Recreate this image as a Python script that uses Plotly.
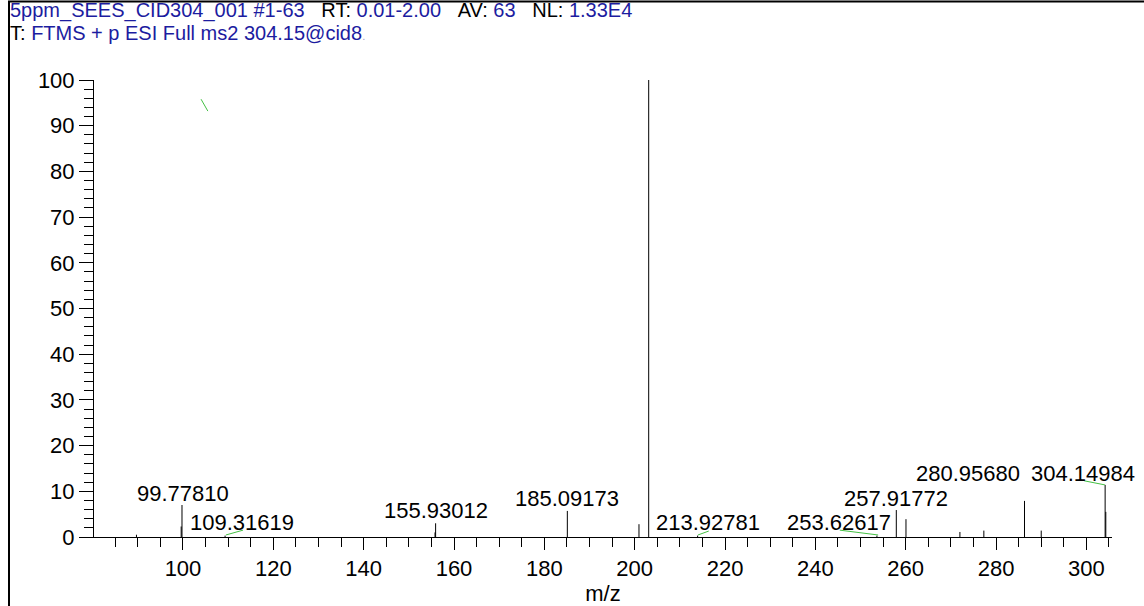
import plotly.graph_objects as go

# ---------------- data ----------------
peak_mz = [89.7, 99.60, 99.78, 109.32, 155.80, 155.93, 185.09, 200.95, 203.10,
           213.93, 253.63, 257.92, 260.06, 272.0, 277.3, 286.3, 290.0, 304.15, 304.30]
peak_int = [0.5, 2.3, 7.0, 0.3, 1.0, 3.0, 5.7, 2.8, 100.0,
            0.3, 0.3, 5.9, 3.9, 1.1, 1.4, 7.9, 1.4, 11.4, 5.5]

label_text = ["99.77810", "109.31619", "155.93012", "185.09173", "203.10234",
              "213.92781", "253.62617", "257.91772", "280.95680", "304.14984"]
label_x = [99.9, 113.1, 156.0, 185.1, 203.4, 216.2, 245.2, 257.9, 273.7, 299.2]
label_y = [9.6, 3.1, 5.75, 8.5, 103.3, 3.1, 3.1, 8.5, 13.9, 13.9]

# green label leader lines (start x, start y, end x, end y)
conn_x0 = [109.5, 214.0, 245.4, 299.5, 104.0]
conn_y0 = [0.44, 0.44, 1.5, 12.3, 95.8]
conn_x1 = [113.3, 216.4, 253.9, 304.1, 105.5]
conn_y1 = [1.5, 1.3, 0.44, 11.4, 93.2]

x_range = [80.3, 305.67]
y_range = [0, 100]
x_major = list(range(100, 301, 20))
y_major = list(range(0, 101, 10))

header1 = [("5ppm_SEES_CID304_001 #1-63", True), ("\u00a0\u00a0\u00a0RT:\u00a0", False),
           ("0.01-2.00", True), ("\u00a0\u00a0\u00a0AV:\u00a0", False), ("63", True),
           ("\u00a0\u00a0\u00a0NL:\u00a0", False), ("1.33E4", True)]
header2 = [("T:\u00a0", False), ("FTMS + p ESI Full ms2 304.15@cid8", True)]

# ---------------- styling / layout ----------------
W, H = 1144, 606
L, R, T, B = 94, 1112, 80, 537
BLUE = "#1c1ca0"
FONT = "Arial, Liberation Sans, sans-serif"
FS = 22
HFS = 20


def px_x(p):
    return (p - L) / (R - L)


def px_y(p):
    return (B - p) / (B - T)


def rich(parts):
    out = ""
    for txt, blue in parts:
        out += f"<span style='color:{BLUE}'>{txt}</span>" if blue else txt
    return out


sx, sy = [], []
for m, h in zip(peak_mz, peak_int):
    sx += [m, m, None]
    sy += [0, h, None]

cx, cy = [], []
for a, b, c, d in zip(conn_x0, conn_y0, conn_x1, conn_y1):
    cx += [a, c, None]
    cy += [b, d, None]

fig = go.Figure()
fig.add_trace(go.Scatter(x=sx, y=sy, mode="lines", line=dict(color="black", width=1),
                         hoverinfo="skip", cliponaxis=False))
fig.add_trace(go.Scatter(x=cx, y=cy, mode="lines", line=dict(color="#44c044", width=1),
                         hoverinfo="skip", cliponaxis=False))

annotations = []
for t, x, y in zip(label_text, label_x, label_y):
    annotations.append(dict(x=x, y=y, xref="x", yref="y", text=t, showarrow=False,
                            xanchor="center", yanchor="middle",
                            font=dict(size=FS, color="black", family=FONT)))

annotations.append(dict(x=px_x(9), y=px_y(10.5), xref="paper", yref="paper",
                        text=rich(header1), showarrow=False, xanchor="left", yanchor="middle",
                        borderpad=0, font=dict(size=HFS, color="black", family=FONT)))
annotations.append(dict(x=px_x(9), y=px_y(33), xref="paper", yref="paper",
                        text=rich(header2) + "<span style='color:#9999cc;font-size:11px'>.</span>",
                        showarrow=False, xanchor="left", yanchor="middle",
                        borderpad=0, font=dict(size=HFS, color="black", family=FONT)))

shapes = [
    dict(type="line", xref="paper", yref="paper", x0=px_x(9), x1=px_x(9),
         y0=px_y(2), y1=px_y(W), line=dict(color="black", width=2)),
    dict(type="line", xref="paper", yref="paper", x0=px_x(8), x1=px_x(W + 5),
         y0=px_y(1.5), y1=px_y(1.5), line=dict(color="black", width=2)),
]

fig.update_layout(
    width=W, height=H,
    margin=dict(l=L, r=W - R, t=T, b=H - B, autoexpand=False),
    paper_bgcolor="white", plot_bgcolor="white",
    showlegend=False, hovermode=False,
    font=dict(family=FONT, size=FS, color="black"),
    annotations=annotations, shapes=shapes,
)
fig.update_xaxes(range=x_range, tickmode="array", tickvals=x_major,
                 ticks="outside", ticklen=12, tickcolor="black", tickwidth=1,
                 minor=dict(dtick=5, tick0=0, ticks="outside", ticklen=9, tickcolor="black"),
                 showline=True, linecolor="black", linewidth=1,
                 showgrid=False, zeroline=False,
                 tickfont=dict(size=FS, family=FONT, color="black"),
                 title=dict(text="m/z", font=dict(size=FS, family=FONT, color="black"), standoff=6))
fig.update_yaxes(range=y_range, tickmode="array", tickvals=y_major,
                 ticks="outside", ticklen=14, tickcolor="black", tickwidth=1,
                 minor=dict(dtick=2, tick0=0, ticks="outside", ticklen=9, tickcolor="black"),
                 showline=True, linecolor="black", linewidth=1,
                 showgrid=False, zeroline=False,
                 tickfont=dict(size=FS, family=FONT, color="black"))

fig.write_html("out.html", config={"displayModeBar": False},
               post_script="document.body.style.margin='0';document.body.style.overflow='hidden';")
